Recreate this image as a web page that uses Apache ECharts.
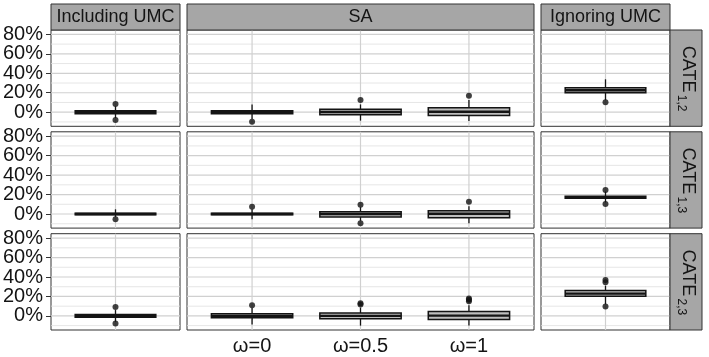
<!DOCTYPE html>
<html>
<head>
<meta charset="utf-8">
<script src="https://cdn.jsdelivr.net/npm/echarts@6/dist/echarts.min.js"></script>
<style>html,body{margin:0;padding:0;background:#fff}#c{width:709px;height:357px}</style>
</head>
<body>
<div id="c"></div>
<script>
// ---- data (percent) ----
const columnTitles = ['Including UMC', 'SA', 'Ignoring UMC'];
const rowSubscripts = ['1,2', '1,3', '2,3'];
const saLabels = ['ω=0', 'ω=0.5', 'ω=1'];
const yTickValues = [0, 20, 40, 60, 80];
const yGridValues = [-10, 0, 10, 20, 30, 40, 50, 60, 70, 80];

// box stats: [lower whisker, Q1, median, Q3, upper whisker]
const cate12Including = [[-6, -1.5, 0, 1.5, 6]];
const cate12SA = [[-7, -1.5, 0, 1.5, 8], [-8.7, -2.5, 0.2, 3.0, 8], [-9, -3.5, 0.5, 4.5, 12.5]];
const cate12Ignoring = [[12.5, 20, 22.5, 25.2, 33.8]];
const cate13Including = [[-3, -0.8, 0, 0.8, 4.8]];
const cate13SA = [[-5.4, -0.8, 0, 0.8, 5], [-7, -3.1, 0, 2.4, 7], [-9.6, -3.8, 0.3, 3.4, 8]];
const cate13Ignoring = [[12, 16.2, 17.2, 18.2, 23]];
const cate23Including = [[-6, -1.5, 0, 1.5, 6]];
const cate23SA = [[-8.9, -2, 0, 2.2, 8], [-10, -3, 0, 3, 8.5], [-10, -3.8, 0.3, 4.5, 11]];
const cate23Ignoring = [[12, 20.2, 22.9, 26, 31]];

// outliers per box
const cate12IncludingOut = [[8.5, -8]];
const cate12SAOut = [[-9.8], [12.5], [17]];
const cate12IgnoringOut = [[10.2]];
const cate13IncludingOut = [[-5.4]];
const cate13SAOut = [[7.5], [9.6, -9.6], [12.6]];
const cate13IgnoringOut = [[24.7, 10.3]];
const cate23IncludingOut = [[9.2, -7.9]];
const cate23SAOut = [[11], [11.6, 13], [15, 16.5, 18]];
const cate23IgnoringOut = [[34.5, 37, 9.6]];

const boxes = [
  [cate12Including, cate12SA, cate12Ignoring],
  [cate13Including, cate13SA, cate13Ignoring],
  [cate23Including, cate23SA, cate23Ignoring]
];
const outs = [
  [cate12IncludingOut, cate12SAOut, cate12IgnoringOut],
  [cate13IncludingOut, cate13SAOut, cate13IgnoringOut],
  [cate23IncludingOut, cate23SAOut, cate23IgnoringOut]
];

// ---- layout ----
const cols = [
  { left: 51, width: 129, min: 0.4, max: 1.6 },
  { left: 187, width: 347, min: 0.4, max: 3.6 },
  { left: 541, width: 129, min: 0.4, max: 1.6 }
];
const rowTops = [30, 131.8, 233.7];
const rowH = 96.3;
const yMin = -14.5, yMax = 84.5;
const BOX_HALF = 0.375;
const FONT = 'Liberation Sans, Arial, sans-serif';
const INK = '#141414';

const grid = [], xAxis = [], yAxis = [], series = [], graphic = [];

for (let r = 0; r < 3; r++) {
  for (let c = 0; c < 3; c++) {
    const idx = r * 3 + c;
    const col = cols[c];
    grid.push({ left: col.left, top: rowTops[r], width: col.width, height: rowH,
      show: true, borderColor: '#333', borderWidth: 1, backgroundColor: '#fff' });
    const bottom = r === 2 && c === 1;
    xAxis.push({ type: 'value', gridIndex: idx, min: col.min, max: col.max,
      axisLine: { show: false }, splitLine: { show: false },
      axisTick: { show: bottom, customValues: [1, 2, 3], length: 4, lineStyle: { color: '#333' } },
      axisLabel: { show: bottom, customValues: [1, 2, 3], margin: 6,
        showMinLabel: true, showMaxLabel: true, hideOverlap: false,
        formatter: v => saLabels[Math.round(v) - 1] || '',
        fontSize: 20, color: INK, fontFamily: FONT } });
    const left = c === 0;
    yAxis.push({ type: 'value', gridIndex: idx, min: yMin, max: yMax,
      axisLine: { show: false }, splitLine: { show: false },
      axisTick: { show: left, customValues: yTickValues, length: 5, lineStyle: { color: '#333' } },
      axisLabel: { show: false } });

    // horizontal grid lines
    series.push({ type: 'custom', xAxisIndex: idx, yAxisIndex: idx, silent: true, z: 1,
      data: yGridValues.map(v => [v]),
      renderItem: (params, api) => {
        const v = api.value(0);
        const a = api.coord([col.min, v]), b = api.coord([col.max, v]);
        const major = v % 20 === 0;
        return { type: 'line', shape: { x1: a[0], y1: a[1], x2: b[0], y2: b[1] },
          style: { stroke: major ? '#d0d0d0' : '#e0e0e0', lineWidth: major ? 1.2 : 0.8 } };
      } });
    // vertical grid lines at category positions
    series.push({ type: 'custom', xAxisIndex: idx, yAxisIndex: idx, silent: true, z: 1,
      data: boxes[r][c].map((_, i) => [i + 1]),
      renderItem: (params, api) => {
        const x = api.value(0);
        const a = api.coord([x, yMin]), b = api.coord([x, yMax]);
        return { type: 'line', shape: { x1: a[0], y1: a[1], x2: b[0], y2: b[1] },
          style: { stroke: '#d0d0d0', lineWidth: 1.2 } };
      } });
    // y tick labels (left column only), placed via the axis scale
    if (left) {
      series.push({ type: 'custom', xAxisIndex: idx, yAxisIndex: idx, silent: true, z: 5,
        data: yTickValues.map(v => [v]),
        renderItem: (params, api) => {
          const v = api.value(0);
          const p = api.coord([col.min, v]);
          return { type: 'text', x: p[0] - 8, y: p[1],
            style: { text: v + '%', fontSize: 20, fontFamily: FONT, fill: INK,
              align: 'right', verticalAlign: 'middle' } };
        } });
    }
    // boxes
    series.push({ type: 'custom', xAxisIndex: idx, yAxisIndex: idx, silent: true, z: 3,
      data: boxes[r][c].map((b, i) => [i + 1].concat(b)),
      renderItem: (params, api) => {
        const x = api.value(0);
        const lo = api.value(1), q1 = api.value(2), med = api.value(3), q3 = api.value(4), hi = api.value(5);
        const pLo = api.coord([x, lo]), pHi = api.coord([x, hi]);
        const pA = api.coord([x - BOX_HALF, q1]), pB = api.coord([x + BOX_HALF, q3]);
        const mA = api.coord([x - BOX_HALF, med]), mB = api.coord([x + BOX_HALF, med]);
        return { type: 'group', children: [
          { type: 'line', shape: { x1: pLo[0], y1: pLo[1], x2: pHi[0], y2: pHi[1] },
            style: { stroke: INK, lineWidth: 1.3 } },
          { type: 'rect', shape: { x: pA[0], y: pB[1], width: pB[0] - pA[0], height: pA[1] - pB[1] },
            style: { fill: '#bdbdbd', stroke: INK, lineWidth: 1.5 } },
          { type: 'line', shape: { x1: mA[0], y1: mA[1], x2: mB[0], y2: mB[1] },
            style: { stroke: INK, lineWidth: 2.4 } }
        ] };
      } });
    // outliers
    const pts = [];
    outs[r][c].forEach((arr, i) => arr.forEach(v => pts.push([i + 1, v])));
    series.push({ type: 'scatter', xAxisIndex: idx, yAxisIndex: idx, silent: true, z: 4,
      symbol: 'circle', symbolSize: 6, itemStyle: { color: '#111' }, data: pts });
  }
}

// top strips
cols.forEach((col, c) => {
  graphic.push({ type: 'rect', shape: { x: col.left, y: 4, width: col.width, height: 26 },
    style: { fill: '#a6a6a6', stroke: '#333', lineWidth: 1 }, z: 10 });
  graphic.push({ type: 'text', x: col.left + col.width / 2, y: 17.5, z: 11,
    style: { text: columnTitles[c], fontSize: 18, fontFamily: FONT, fill: INK,
      align: 'center', verticalAlign: 'middle' } });
});
// right strips
rowTops.forEach((top, r) => {
  graphic.push({ type: 'rect', shape: { x: 670, y: top, width: 32, height: rowH },
    style: { fill: '#a6a6a6', stroke: '#333', lineWidth: 1 }, z: 10 });
  const cy = top + rowH / 2;
  graphic.push({ type: 'text', x: 687.5, y: cy - 9, rotation: -Math.PI / 2, z: 11,
    style: { text: 'CATE', fontSize: 18, fontFamily: FONT, fill: INK,
      align: 'center', verticalAlign: 'middle' } });
  graphic.push({ type: 'text', x: 681.5, y: cy + 25, rotation: -Math.PI / 2, z: 11,
    style: { text: rowSubscripts[r], fontSize: 12, fontFamily: FONT, fill: INK,
      align: 'center', verticalAlign: 'middle' } });
});

const chart = echarts.init(document.getElementById('c'), null, { renderer: 'canvas' });
chart.setOption({ animation: false, backgroundColor: '#fff', grid, xAxis, yAxis, series, graphic });
</script>
</body>
</html>
